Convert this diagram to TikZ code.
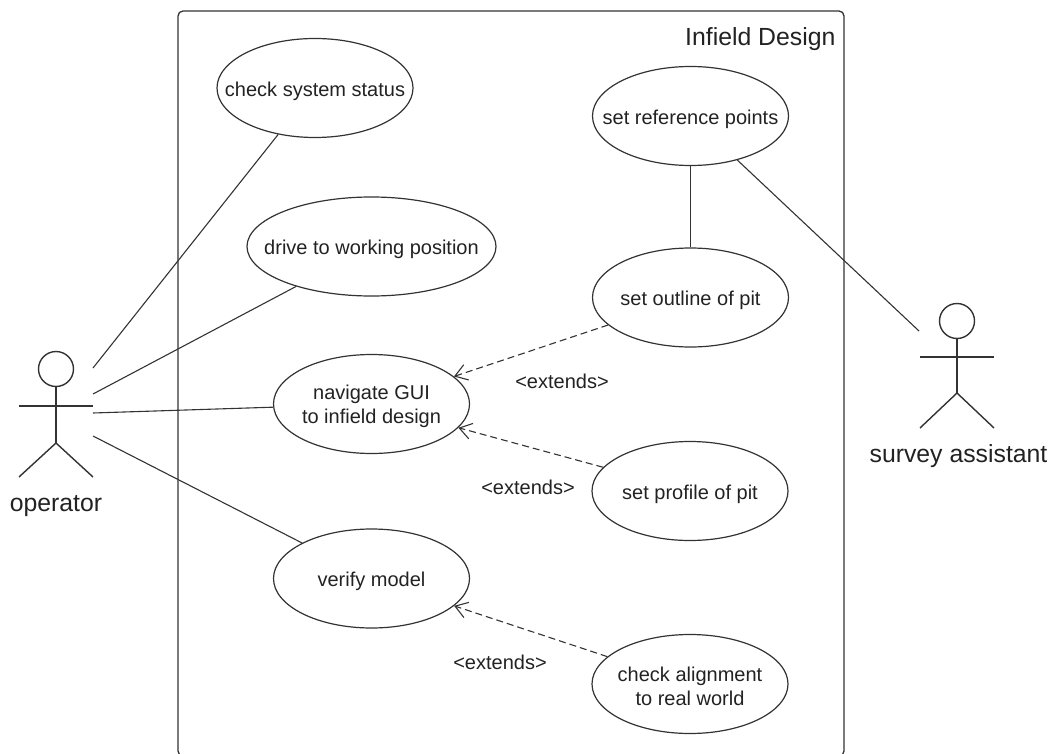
\documentclass[tikz,border=0pt]{standalone}
\usepackage{fontspec}
\setmainfont{Liberation Sans}
\usetikzlibrary{arrows.meta,shapes.geometric}
\definecolor{umlline}{HTML}{333333}
\definecolor{umltext}{HTML}{222222}
\tikzset{
  usecase/.style={draw=umlline,ellipse,line width=1.2pt,minimum width=196pt,minimum height=99pt,inner sep=-30pt,align=center,text=umltext,font=\fontsize{20}{24}\selectfont,execute at begin node={\rule{0pt}{21pt}}},
  twolines/.style={text height=44pt},
  actorhead/.style={draw=umlline,circle,line width=1.4pt,minimum size=35pt,inner sep=0pt},
  actorname/.style={text=umltext,font=\fontsize{24.8}{30}\selectfont},
  extendsname/.style={text=umltext,font=\fontsize{20}{24}\selectfont},
  assoc/.style={draw=umlline,line width=1.1pt},
  limb/.style={draw=umlline,line width=1.4pt},
  extendsline/.style={draw=umlline,line width=1.1pt,dash pattern=on 7pt off 4pt,-{Straight Barb[length=12pt,width=16pt,line width=1.1pt]}}
}
\begin{document}
\begin{tikzpicture}[line cap=butt,line join=round,x=1pt,y=-1pt]
  \useasboundingbox (0,0) rectangle (1054,754);
  \clip (0,0) rectangle (1054,754);
  % system frame
  \draw [umlline,line width=1.3pt,rounded corners=5pt] (178,756) rectangle (844,11);
  \node [actorname,anchor=east] (title) at (839,39) {Infield Design};
  % use cases
  \node [usecase] (status) at (315,88) {check system status};
  \node [usecase,minimum width=249pt] (drive) at (371.5,246.5) {drive to working position};
  \node [usecase,twolines] (navigate) at (371.5,404) {navigate GUI\\to infield design};
  \node [usecase] (verify) at (371.5,578.5) {verify model};
  \node [usecase] (refpoints) at (690.5,116) {set reference points};
  \node [usecase] (outline) at (690.5,297.5) {set outline of pit};
  \node [usecase] (profile) at (690,491) {set profile of pit};
  \node [usecase,twolines] (alignment) at (690,684) {check alignment\\to real world};
  % operator
  \node [actorhead] (ophead) at (56,369) {};
  \coordinate (ophip) at (56,443);
  \coordinate (oparml) at (19,406);
  \coordinate (oparmr) at (93,406);
  \coordinate (oplegl) at (19,477);
  \coordinate (oplegr) at (93,477);
  \draw [limb] (ophead) -- (ophip);
  \draw [limb] (oparml) -- (oparmr);
  \draw [limb] (oplegl) -- (ophip) -- (oplegr);
  \node [actorname] (opname) at (56,506) {operator};
  % survey assistant
  \node [actorhead] (sahead) at (957,321) {};
  \coordinate (sahip) at (957,393);
  \coordinate (saarml) at (920,357);
  \coordinate (saarmr) at (994,357);
  \coordinate (salegl) at (920,428);
  \coordinate (salegr) at (994,428);
  \draw [limb] (sahead) -- (sahip);
  \draw [limb] (saarml) -- (saarmr);
  \draw [limb] (salegl) -- (sahip) -- (salegr);
  \node [actorname] (saname) at (958.5,456) {survey assistant};
  % free ends beside the actors
  \coordinate (opa) at (93,368);
  \coordinate (opb) at (93,394);
  \coordinate (opc) at (93,413);
  \coordinate (opd) at (93,436);
  \coordinate (saa) at (919,331);
  % associations
  \draw [assoc] (opa) -- (status);
  \draw [assoc] (opb) -- (drive);
  \draw [assoc] (opc) -- (navigate);
  \draw [assoc] (opd) -- (verify);
  \draw [assoc] (refpoints) -- (outline);
  \draw [assoc] (saa) -- (refpoints);
  % extends
  \draw [extendsline] (outline) -- (navigate);
  \draw [extendsline] (profile) -- (navigate);
  \draw [extendsline] (alignment) -- (verify);
  \node [extendsname] (exta) at (562,381) {<extends>};
  \node [extendsname] (extb) at (528,487) {<extends>};
  \node [extendsname] (extc) at (500,662) {<extends>};
\end{tikzpicture}
\end{document}
